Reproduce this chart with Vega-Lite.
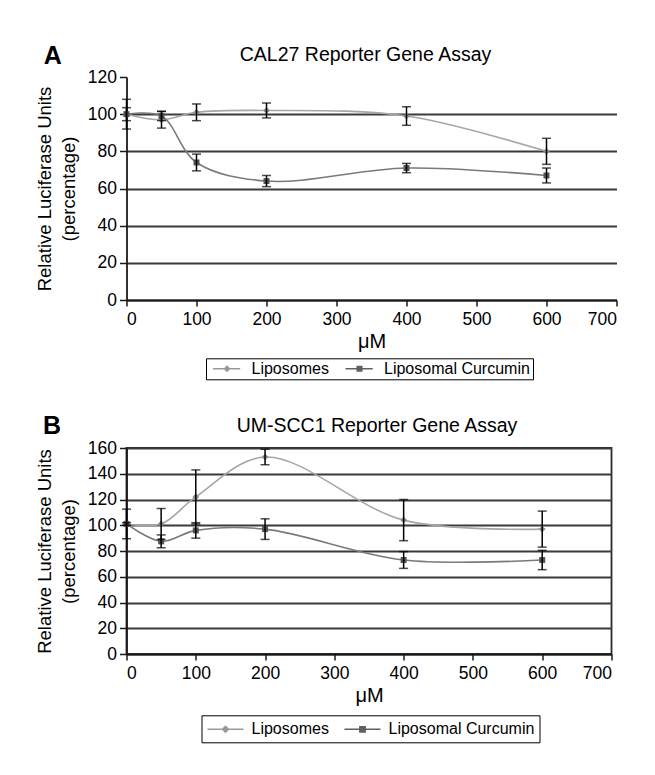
{
  "$schema": "https://vega.github.io/schema/vega-lite/v6.json",
  "padding": {"left": 34.5, "top": 43, "right": 0, "bottom": 0},
  "background": "white",
  "config": {
    "font": "Liberation Sans",
    "view": {"stroke": null},
    "axis": {
      "domainColor": "#1a1a1a", "domainWidth": 1.8,
      "tickColor": "#1a1a1a", "tickWidth": 1.5,
      "labelColor": "black", "labelFontSize": 17.5, "labelFont": "Liberation Sans",
      "titleColor": "black", "titleFont": "Liberation Sans", "titleFontWeight": "normal",
      "gridColor": "#3a3a3a", "gridWidth": 1.8
    }
  },
  "datasets": {
    "a": [
      {"conc": 0, "series": "Liposomes", "value": 100, "err": 8},
      {"conc": 50, "series": "Liposomes", "value": 97, "err": 4.5},
      {"conc": 100, "series": "Liposomes", "value": 101, "err": 4.5},
      {"conc": 200, "series": "Liposomes", "value": 102, "err": 4},
      {"conc": 400, "series": "Liposomes", "value": 99, "err": 5},
      {"conc": 600, "series": "Liposomes", "value": 80, "err": 7},
      {"conc": 0, "series": "Liposomal Curcumin", "value": 100, "err": 3.5},
      {"conc": 50, "series": "Liposomal Curcumin", "value": 99, "err": 2.5},
      {"conc": 100, "series": "Liposomal Curcumin", "value": 74, "err": 4.5},
      {"conc": 200, "series": "Liposomal Curcumin", "value": 64, "err": 3},
      {"conc": 400, "series": "Liposomal Curcumin", "value": 71, "err": 2.5},
      {"conc": 600, "series": "Liposomal Curcumin", "value": 67, "err": 4}
    ],
    "b": [
      {"conc": 0, "series": "Liposomes", "value": 101, "err": 11.5},
      {"conc": 50, "series": "Liposomes", "value": 101, "err": 12},
      {"conc": 100, "series": "Liposomes", "value": 122, "err": 21},
      {"conc": 200, "series": "Liposomes", "value": 153, "err": 6},
      {"conc": 400, "series": "Liposomes", "value": 104, "err": 16},
      {"conc": 600, "series": "Liposomes", "value": 97, "err": 14},
      {"conc": 0, "series": "Liposomal Curcumin", "value": 101, "err": 1},
      {"conc": 50, "series": "Liposomal Curcumin", "value": 87.5, "err": 5},
      {"conc": 100, "series": "Liposomal Curcumin", "value": 96, "err": 6},
      {"conc": 200, "series": "Liposomal Curcumin", "value": 97, "err": 8},
      {"conc": 400, "series": "Liposomal Curcumin", "value": 73, "err": 6.5},
      {"conc": 600, "series": "Liposomal Curcumin", "value": 73, "err": 7.5}
    ]
  },
  "spacing": 33,
  "resolve": {"scale": {"color": "independent"}, "legend": {"color": "independent"}},
  "vconcat": [
    {
      "title": {"text": "A", "anchor": "start", "frame": "bounds", "fontSize": 25, "fontWeight": "bold", "offset": 0, "dy": 24, "dx": 8, "color": "black"},
      "resolve": {"scale": {"color": "independent"}, "legend": {"color": "independent"}},
      "vconcat": [
        {
          "data": {"name": "a"},
          "width": 490,
          "height": 223,
          "title": {"text": "CAL27 Reporter Gene Assay", "fontSize": 19.5, "fontWeight": "normal", "offset": 3, "anchor": "middle", "dx": -6, "color": "black"},
          "encoding": {
            "x": {"field": "conc", "type": "quantitative", "scale": {"domain": [0, 700], "nice": false},
                  "axis": {"values": [0, 100, 200, 300, 400, 500, 600, 700], "grid": false, "title": "μM", "titleFontSize": 20, "titlePadding": 4, "tickSize": 6, "labelPadding": 4}},
            "y": {"field": "value", "type": "quantitative", "scale": {"domain": [0, 120], "nice": false},
                  "axis": {"values": [0, 20, 40, 60, 80, 100, 120], "grid": true, "gridOpacity": {"condition": {"test": "datum.value == 120", "value": 0}, "value": 1},
                           "title": ["Relative Luciferase Units", "(percentage)"], "titleFontSize": 18.5, "titleLineHeight": 23.5, "titlePadding": 9, "tickSize": 7, "labelPadding": 3}}
          },
          "layer": [
            {
              "mark": {"type": "line", "interpolate": "catmull-rom", "strokeWidth": 1.6},
              "encoding": {
                "color": {"field": "series", "type": "nominal", "scale": {"domain": ["Liposomes", "Liposomal Curcumin"], "range": ["#a6a6a6", "#7a7a7a"]},
                          "legend": {"orient": "none", "legendX": 79.5, "legendY": 281.3, "direction": "horizontal", "title": null,
                                     "strokeColor": "black", "fillColor": "white", "padding": 2.5,
                                     "symbolType": "stroke", "symbolSize": 256, "symbolStrokeWidth": 0, "symbolOffset": 4.5,
                                     "labelFontSize": 16, "labelOffset": 22.5, "columnPadding": 11.5, "labelColor": "black",
                                     "labelExpr": "datum.label == 'Liposomal Curcumin' ? datum.label + '    ' : datum.label",
                                     "encode": {"symbols": {"update": {
                                       "shape": {"signal": "datum.value == 'Liposomes' ? 'M-1,-0.1L2.4,-0.1L2.4,0.1L-1,0.1ZM0.75,-0.44L1.19,0L0.75,0.44L0.31,0Z' : 'M-1,-0.1L2.4,-0.1L2.4,0.1L-1,0.1ZM0.37,-0.38L1.13,-0.38L1.13,0.38L0.37,0.38Z'"},
                                       "fill": {"signal": "datum.value == 'Liposomes' ? '#999999' : '#606060'"},
                                       "strokeWidth": {"value": 0}, "opacity": {"value": 1}}}}}}
              }
            },
            {
              "transform": [{"filter": "datum.series == 'Liposomes'"}],
              "mark": {"type": "point", "shape": "diamond", "filled": true, "size": 45, "opacity": 1, "color": "#8a8a8a"}
            },
            {
              "transform": [{"filter": "datum.series == 'Liposomal Curcumin'"}],
              "mark": {"type": "point", "shape": "square", "filled": true, "size": 36, "opacity": 1, "color": "#555555"}
            },
            {
              "mark": {"type": "errorbar", "color": "black", "ticks": {"size": 9, "thickness": 1.5}, "rule": {"strokeWidth": 1.5}},
              "encoding": {"yError": {"field": "err"}}
            }
          ]
        }
      ]
    },
    {
      "title": {"text": "B", "anchor": "start", "frame": "bounds", "fontSize": 25, "fontWeight": "bold", "offset": 0, "dy": 24, "dx": 8, "color": "black"},
      "resolve": {"scale": {"color": "independent"}, "legend": {"color": "independent"}},
      "vconcat": [
        {
          "data": {"name": "b"},
          "width": 485,
          "height": 206,
          "view": {"stroke": "#2a2a2a", "strokeWidth": 1.8},
          "title": {"text": "UM-SCC1 Reporter Gene Assay", "fontSize": 19.5, "fontWeight": "normal", "offset": 3, "anchor": "middle", "dx": 8, "color": "black"},
          "encoding": {
            "x": {"field": "conc", "type": "quantitative", "scale": {"domain": [0, 700], "nice": false},
                  "axis": {"values": [0, 100, 200, 300, 400, 500, 600, 700], "grid": false, "title": "μM", "titleFontSize": 20, "titlePadding": 4, "tickSize": 6, "labelPadding": 4}},
            "y": {"field": "value", "type": "quantitative", "scale": {"domain": [0, 160], "nice": false},
                  "axis": {"values": [0, 20, 40, 60, 80, 100, 120, 140, 160], "grid": true,
                           "title": ["Relative Luciferase Units", "(percentage)"], "titleFontSize": 18.5, "titleLineHeight": 23.5, "titlePadding": 9, "tickSize": 7, "labelPadding": 3}}
          },
          "layer": [
            {
              "mark": {"type": "line", "interpolate": "catmull-rom", "strokeWidth": 1.6},
              "encoding": {
                "color": {"field": "series", "type": "nominal", "scale": {"domain": ["Liposomes", "Liposomal Curcumin"], "range": ["#a6a6a6", "#7a7a7a"]},
                          "legend": {"orient": "none", "legendX": 75, "legendY": 267.3, "direction": "horizontal", "title": null,
                                     "strokeColor": "black", "fillColor": "white", "padding": 5,
                                     "symbolType": "stroke", "symbolSize": 324, "symbolStrokeWidth": 0, "symbolOffset": 1,
                                     "labelFontSize": 16, "labelOffset": 26, "columnPadding": 14, "labelColor": "black",
                                     "labelExpr": "datum.label == 'Liposomal Curcumin' ? datum.label + '   ' : datum.label",
                                     "encode": {"symbols": {"update": {
                                       "shape": {"signal": "datum.value == 'Liposomes' ? 'M-1,-0.09L3,-0.09L3,0.09L-1,0.09ZM1,-0.45L1.45,0L1,0.45L0.55,0Z' : 'M-1,-0.09L3,-0.09L3,0.09L-1,0.09ZM0.62,-0.38L1.38,-0.38L1.38,0.38L0.62,0.38Z'"},
                                       "fill": {"signal": "datum.value == 'Liposomes' ? '#999999' : '#606060'"},
                                       "strokeWidth": {"value": 0}, "opacity": {"value": 1}}}}}}
              }
            },
            {
              "transform": [{"filter": "datum.series == 'Liposomes'"}],
              "mark": {"type": "point", "shape": "diamond", "filled": true, "size": 45, "opacity": 1, "color": "#8a8a8a"}
            },
            {
              "transform": [{"filter": "datum.series == 'Liposomal Curcumin'"}],
              "mark": {"type": "point", "shape": "square", "filled": true, "size": 36, "opacity": 1, "color": "#555555"}
            },
            {
              "mark": {"type": "errorbar", "color": "black", "ticks": {"size": 9, "thickness": 1.5}, "rule": {"strokeWidth": 1.5}},
              "encoding": {"yError": {"field": "err"}}
            }
          ]
        }
      ]
    }
  ]
}
